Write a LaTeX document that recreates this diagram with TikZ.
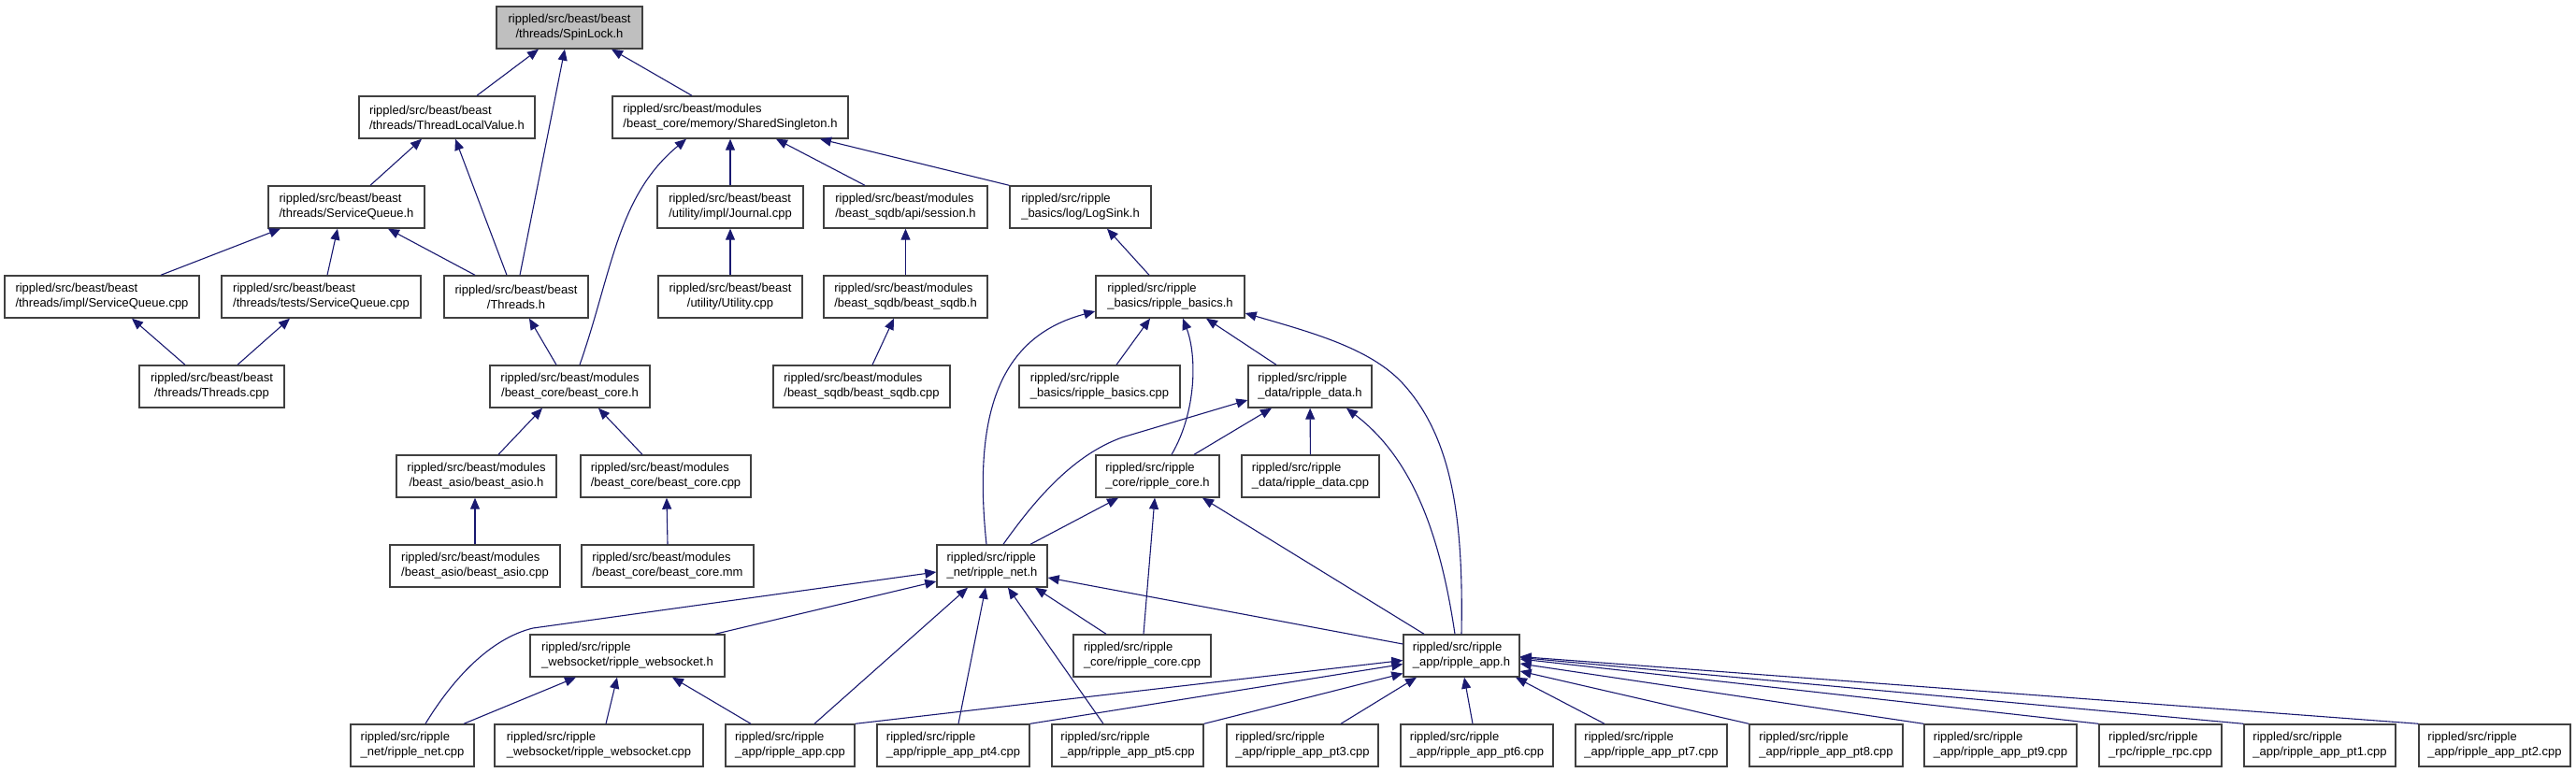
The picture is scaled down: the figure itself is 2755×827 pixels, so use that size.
\documentclass[tikz,border=0pt]{standalone}
\usepackage{fontspec}
\setmainfont{Liberation Sans}
\usetikzlibrary{arrows.meta}
\definecolor{edgec}{RGB}{25,25,112}
\definecolor{boxc}{RGB}{64,64,64}
\definecolor{hl}{RGB}{191,191,191}
\begin{document}
\begin{tikzpicture}[x=1pt,y=-1pt,
  box/.style={draw=boxc, line width=1.4pt, fill=white, inner sep=0pt, minimum height=45pt, align=left, font=\fontsize{13pt}{16pt}\selectfont},
  cbox/.style={box, align=center},
  edge/.style={draw=edgec, line width=1.1pt, -{Triangle[length=12pt,width=10pt]}}]
\useasboundingbox (0,0) rectangle (2755,827);
% row 1
\node[cbox, minimum width=156pt, fill=hl] (spin) at (609,29.5) {rippled/src/beast/beast\\/threads/SpinLock.h};
% row 2
\node[box, minimum width=188pt] (tlv) at (478,125.5) {rippled/src/beast/beast\\/threads/ThreadLocalValue.h};
\node[box, minimum width=252pt] (ss) at (781,125.5) {rippled/src/beast/modules\\/beast\_core/memory/SharedSingleton.h};
% row 3
\node[box, minimum width=167pt] (sqh) at (370.5,221.5) {rippled/src/beast/beast\\/threads/ServiceQueue.h};
\node[box, minimum width=156pt] (journal) at (781,221.5) {rippled/src/beast/beast\\/utility/impl/Journal.cpp};
\node[box, minimum width=175pt] (session) at (968.5,221.5) {rippled/src/beast/modules\\/beast\_sqdb/api/session.h};
\node[box, minimum width=151pt] (logsink) at (1155.5,221.5) {rippled/src/ripple\\\_basics/log/LogSink.h};
% row 4
\node[box, minimum width=208pt] (sqimpl) at (109,317.5) {rippled/src/beast/beast\\/threads/impl/ServiceQueue.cpp};
\node[box, minimum width=213pt] (sqtests) at (343.5,317.5) {rippled/src/beast/beast\\/threads/tests/ServiceQueue.cpp};
\node[cbox, minimum width=154pt] (threadsh) at (552,317.5) {rippled/src/beast/beast\\/Threads.h};
\node[cbox, minimum width=154pt] (utility) at (781,317.5) {rippled/src/beast/beast\\/utility/Utility.cpp};
\node[box, minimum width=175pt] (sqdbh) at (968.5,317.5) {rippled/src/beast/modules\\/beast\_sqdb/beast\_sqdb.h};
\node[box, minimum width=159pt] (basicsh) at (1251.5,317.5) {rippled/src/ripple\\\_basics/ripple\_basics.h};
% row 5
\node[cbox, minimum width=155pt] (threadscpp) at (226.5,413.5) {rippled/src/beast/beast\\/threads/Threads.cpp};
\node[cbox, minimum width=171pt] (corehb) at (609.5,413.5) {rippled/src/beast/modules\\/beast\_core/beast\_core.h};
\node[box, minimum width=189pt] (sqdbcpp) at (921.5,413.5) {rippled/src/beast/modules\\/beast\_sqdb/beast\_sqdb.cpp};
\node[box, minimum width=172pt] (basicscpp) at (1176,413.5) {rippled/src/ripple\\\_basics/ripple\_basics.cpp};
\node[box, minimum width=132pt] (datah) at (1401,413.5) {rippled/src/ripple\\\_data/ripple\_data.h};
% row 6
\node[cbox, minimum width=171pt] (asioh) at (509.5,509.5) {rippled/src/beast/modules\\/beast\_asio/beast\_asio.h};
\node[box, minimum width=182pt] (corecppb) at (712,509.5) {rippled/src/beast/modules\\/beast\_core/beast\_core.cpp};
\node[box, minimum width=132pt] (coreh) at (1238,509.5) {rippled/src/ripple\\\_core/ripple\_core.h};
\node[box, minimum width=147pt] (datacpp) at (1401.5,509.5) {rippled/src/ripple\\\_data/ripple\_data.cpp};
% row 7
\node[box, minimum width=182pt] (asiocpp) at (508,605.5) {rippled/src/beast/modules\\/beast\_asio/beast\_asio.cpp};
\node[box, minimum width=184pt] (coremm) at (714,605.5) {rippled/src/beast/modules\\/beast\_core/beast\_core.mm};
\node[box, minimum width=118pt] (neth) at (1061,605.5) {rippled/src/ripple\\\_net/ripple\_net.h};
% row 8
\node[box, minimum width=208pt] (wsh) at (671,701.5) {rippled/src/ripple\\\_websocket/ripple\_websocket.h};
\node[box, minimum width=147pt] (corecpp) at (1221.5,701.5) {rippled/src/ripple\\\_core/ripple\_core.cpp};
\node[box, minimum width=124pt] (apph) at (1563,701.5) {rippled/src/ripple\\\_app/ripple\_app.h};
% row 9
\node[box, minimum width=132pt] (netcpp) at (441,797.5) {rippled/src/ripple\\\_net/ripple\_net.cpp};
\node[box, minimum width=223pt] (wscpp) at (640.5,797.5) {rippled/src/ripple\\\_websocket/ripple\_websocket.cpp};
\node[box, minimum width=138pt] (appcpp) at (845,797.5) {rippled/src/ripple\\\_app/ripple\_app.cpp};
\node[box, minimum width=163pt] (pt4) at (1019.5,797.5) {rippled/src/ripple\\\_app/ripple\_app\_pt4.cpp};
\node[box, minimum width=162pt] (pt5) at (1206,797.5) {rippled/src/ripple\\\_app/ripple\_app\_pt5.cpp};
\node[box, minimum width=162pt] (pt3) at (1393,797.5) {rippled/src/ripple\\\_app/ripple\_app\_pt3.cpp};
\node[box, minimum width=163pt] (pt6) at (1579.5,797.5) {rippled/src/ripple\\\_app/ripple\_app\_pt6.cpp};
\node[box, minimum width=162pt] (pt7) at (1766,797.5) {rippled/src/ripple\\\_app/ripple\_app\_pt7.cpp};
\node[box, minimum width=164pt] (pt8) at (1953,797.5) {rippled/src/ripple\\\_app/ripple\_app\_pt8.cpp};
\node[box, minimum width=163pt] (pt9) at (2139.5,797.5) {rippled/src/ripple\\\_app/ripple\_app\_pt9.cpp};
\node[box, minimum width=131pt] (rpc) at (2310.5,797.5) {rippled/src/ripple\\\_rpc/ripple\_rpc.cpp};
\node[box, minimum width=162pt] (pt1) at (2481,797.5) {rippled/src/ripple\\\_app/ripple\_app\_pt1.cpp};
\node[box, minimum width=162pt] (pt2) at (2668,797.5) {rippled/src/ripple\\\_app/ripple\_app\_pt2.cpp};
% edges
\draw[edge] ([xshift=32pt]tlv.north) -- ([xshift=-33pt]spin.south);
\draw[edge] ([xshift=4pt]threadsh.north) -- ([xshift=-5pt]spin.south);
\draw[edge] ([xshift=-41pt]ss.north) -- ([xshift=45pt]spin.south);
\draw[edge] ([xshift=25.5pt]sqh.north) -- ([xshift=-27pt]tlv.south);
\draw[edge] ([xshift=-10pt]threadsh.north) -- ([xshift=9pt]tlv.south);
\draw[edge] ([xshift=63pt]sqimpl.north) -- ([xshift=-70.5pt]sqh.south);
\draw[edge] ([xshift=6.5pt]sqtests.north) -- ([xshift=-9.5pt]sqh.south);
\draw[edge] ([xshift=-44pt]threadsh.north) -- ([xshift=44.5pt]sqh.south);
\draw[edge] ([xshift=-28.5pt]threadscpp.north) -- ([xshift=32pt]sqimpl.south);
\draw[edge] ([xshift=27.5pt]threadscpp.north) -- ([xshift=-33.5pt]sqtests.south);
\draw[edge] ([xshift=-14.5pt]corehb.north) -- ([xshift=14pt]threadsh.south);
\draw[edge] ([xshift=10.5pt]corehb.north) .. controls (655,290) and (660,210) .. ([xshift=-47pt]ss.south);
\draw[edge] (journal) -- (ss);
\draw[edge] ([xshift=-43.5pt]session.north) -- ([xshift=49pt]ss.south);
\draw[edge] (logsink.north west) -- ([xshift=96pt]ss.south);
\draw[edge] (utility) -- (journal);
\draw[edge] (sqdbh) -- (session);
\draw[edge] ([xshift=11.5pt]sqdbcpp.north) -- ([xshift=-12.5pt]sqdbh.south);
\draw[edge] ([xshift=-22.5pt]basicsh.north) -- ([xshift=28.5pt]logsink.south);
\draw[edge] ([xshift=18pt]basicscpp.north) -- ([xshift=-21.5pt]basicsh.south);
\draw[edge] ([xshift=23.5pt]asioh.north) -- ([xshift=-29.5pt]corehb.south);
\draw[edge] ([xshift=-25pt]corecppb.north) -- ([xshift=30.5pt]corehb.south);
\draw[edge] (asiocpp.north) -- ([xshift=-1.5pt]asioh.south);
\draw[edge] (coremm.north) -- ([xshift=1pt]corecppb.south);
\draw[edge] ([xshift=-6pt]neth.north) .. controls (1040,440) and (1070,360) .. ([yshift=-15.5pt]basicsh.west);
\draw[edge] ([xshift=15pt]coreh.north) .. controls (1280,440) and (1280,380) .. ([xshift=13.5pt]basicsh.south);
\draw[edge] ([xshift=-36pt]datah.north) -- ([xshift=38.5pt]basicsh.south);
\draw[edge] (apph.north) .. controls (1565,560) and (1555,470) .. (1500,410) .. controls (1465,372) and (1400,355) .. ([yshift=-17.5pt]basicsh.east);
\draw[edge] (datacpp) -- (datah);
\draw[edge] ([xshift=39pt]coreh.north) -- ([xshift=-41pt]datah.south);
\draw[edge] ([xshift=12pt]neth.north) .. controls (1110,530) and (1150,486) .. (1200,468) -- ([yshift=-14.5pt]datah.west);
\draw[edge] ([xshift=-7pt]apph.north) .. controls (1540,570) and (1510,490) .. ([xshift=39pt]datah.south);
\draw[edge] ([xshift=41pt]neth.north) -- ([xshift=-42pt]coreh.south);
\draw[edge] ([xshift=1.5pt]corecpp.north) -- ([xshift=-3pt]coreh.south);
\draw[edge] ([xshift=-40pt]apph.north) -- ([xshift=48pt]coreh.south);
\draw[edge] ([xshift=-38.5pt]corecpp.north) -- ([xshift=46pt]neth.south);
\draw[edge] ([yshift=12.5pt]apph.west) -- ([yshift=-12.5pt]neth.east);
\draw[edge] ([xshift=94pt]wsh.north) -- ([yshift=-16.5pt]neth.west);
\draw[edge] ([xshift=14pt]netcpp.north) .. controls (485,725) and (525,683) .. (570,672) -- ([yshift=-6.5pt]neth.west);
\draw[edge] ([xshift=26pt]appcpp.north) -- ([xshift=-26pt]neth.south);
\draw[edge] ([xshift=5.5pt]pt4.north) -- ([xshift=-7pt]neth.south);
\draw[edge] ([xshift=-26pt]pt5.north) -- ([xshift=17pt]neth.south);
\draw[edge] ([xshift=55pt]netcpp.north) -- ([xshift=-55pt]wsh.south);
\draw[edge] ([xshift=7.5pt]wscpp.north) -- ([xshift=-11pt]wsh.south);
\draw[edge] ([xshift=-42pt]appcpp.north) -- ([xshift=48pt]wsh.south);
\draw[edge] (appcpp.north east) -- ([yshift=-5pt]apph.west);
\draw[edge] (pt4.north east) -- ([yshift=-9pt]apph.west);
\draw[edge] (pt5.north east) -- ([yshift=-19pt]apph.west);
\draw[edge] ([xshift=41pt]pt3.north) -- ([xshift=-48pt]apph.south);
\draw[edge] ([xshift=-4.5pt]pt6.north) -- ([xshift=3pt]apph.south);
\draw[edge] ([xshift=-50pt]pt7.north) -- ([xshift=58pt]apph.south);
\draw[edge] (pt8.north west) -- ([yshift=-16.5pt]apph.east);
\draw[edge] (pt9.north west) -- ([yshift=-8.5pt]apph.east);
\draw[edge] (rpc.north west) -- ([yshift=-3.5pt]apph.east);
\draw[edge] (pt1.north west) -- ([yshift=-2pt]apph.east);
\draw[edge] (pt2.north west) -- ([yshift=-1pt]apph.east);
\end{tikzpicture}
\end{document}
